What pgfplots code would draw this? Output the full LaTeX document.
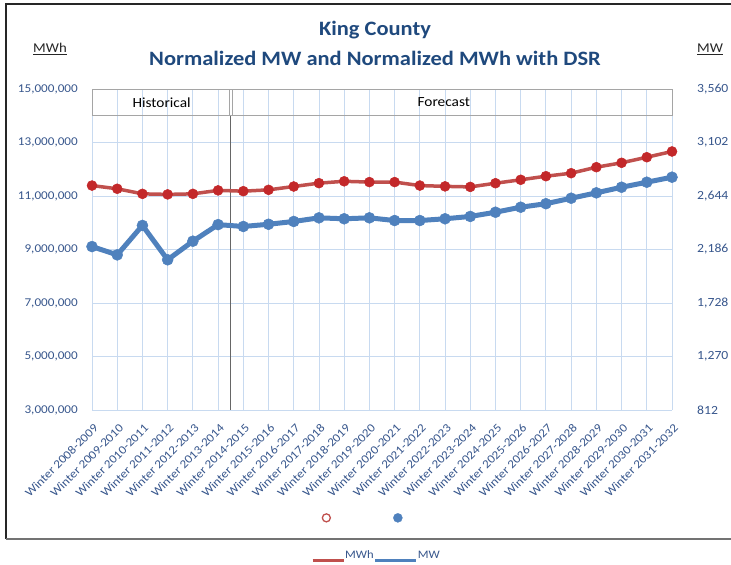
\documentclass[border=0pt]{standalone}
\usepackage{fontspec}
\setmainfont[FakeStretch=1.1]{Carlito}
\usepackage{pgfplots}
\pgfplotsset{compat=1.18}
\definecolor{titleblue}{RGB}{31,73,125}
\definecolor{tickblue}{RGB}{55,86,140}
\definecolor{gridblue}{RGB}{200,218,240}
\definecolor{mwhred}{RGB}{192,80,77}
\definecolor{mwhmark}{RGB}{195,40,42}
\definecolor{mwblue}{RGB}{79,129,189}
\definecolor{boxgray}{RGB}{165,165,165}
\begin{document}
\begin{tikzpicture}
\useasboundingbox (0bp,0bp) rectangle (731bp,565bp);
\draw[black!85, line width=1.3bp] (6bp,26bp) -- (6bp,561bp) -- (745bp,561bp);
\draw[black!55, line width=1.6bp] (6bp,26bp) -- (745bp,26bp);
\node[font=\fontsize{20.5}{24}\selectfont\bfseries, text=titleblue] at (375bp,535bp) {King County};
\node[font=\fontsize{20.5}{24}\selectfont\bfseries, text=titleblue] at (375bp,507bp) {Normalized MW and Normalized MWh with DSR};
\node[font=\fontsize{13.5}{16}\selectfont, text=black!85] at (50bp,516bp) {\underline{MWh}};
\node[font=\fontsize{13.5}{16}\selectfont, text=black!85] at (710bp,516bp) {\underline{MW}};

\begin{axis}[
  at={(92bp,155bp)}, anchor=south west,
  scale only axis, width=580bp, height=321bp,
  xmin=0, xmax=23, ymin=3000000, ymax=15000000,
  xtick={0,...,23},
  xticklabels={Winter 2008-2009,Winter 2009-2010,Winter 2010-2011,Winter 2011-2012,Winter 2012-2013,Winter 2013-2014,Winter 2014-2015,Winter 2015-2016,Winter 2016-2017,Winter 2017-2018,Winter 2018-2019,Winter 2019-2020,Winter 2020-2021,Winter 2021-2022,Winter 2022-2023,Winter 2023-2024,Winter 2024-2025,Winter 2025-2026,Winter 2026-2027,Winter 2027-2028,Winter 2028-2029,Winter 2029-2030,Winter 2030-2031,Winter 2031-2032},
  ytick={3000000,5000000,7000000,9000000,11000000,13000000,15000000},
  scaled y ticks=false,
  /pgf/number format/fixed,
  /pgf/number format/1000 sep={,},
  /pgf/number format/assume math mode=true,
  grid=major, major grid style={gridblue, line width=0.9bp},
  axis line style={draw=none}, major tick style={draw=none},
  yticklabel style={anchor=east, inner sep=0pt, xshift=-14bp, font=\fontsize{12}{14}\selectfont, text=tickblue},
  xticklabel style={xshift=4bp, yshift=-16bp, rotate=45, anchor=east, inner sep=0pt, font=\fontsize{12}{14}\selectfont, text=tickblue},
  clip=false,
  legend style={at={(0.467,-0.336)}, anchor=center, draw=none, fill=none, legend columns=2, /tikz/every even column/.style={column sep=62bp}, nodes={inner sep=0pt}},
]
\draw[boxgray, line width=0.9bp] (axis cs:0,14000000) rectangle (axis cs:23,15000000);
\draw[black!60, line width=0.9bp] (axis cs:5.5,3000000) -- (axis cs:5.5,14000000);
\draw[boxgray, line width=0.8bp] (axis cs:5.45,14000000) -- (axis cs:5.45,15000000);
\draw[boxgray, line width=0.8bp] (axis cs:5.55,14000000) -- (axis cs:5.55,15000000);
\node[font=\fontsize{14}{16}\selectfont, text=black] at (axis cs:2.76,14500000) {Historical};
\node[font=\fontsize{14}{16}\selectfont, text=black] at (axis cs:13.95,14500000) {Forecast};
\addplot[mwhred, line width=3.5bp, mark=*, mark size=5bp, mark options={fill=mwhmark, draw=mwhmark, line width=0.5bp}, forget plot] coordinates {
(0,11390000) (1,11270000) (2,11080000) (3,11060000) (4,11080000) (5,11210000)
(6,11180000) (7,11230000) (8,11355000) (9,11480000) (10,11550000) (11,11520000)
(12,11520000) (13,11390000) (14,11360000) (15,11340000) (16,11478000) (17,11606000)
(18,11740000) (19,11852000) (20,12077000) (21,12241000) (22,12450000) (23,12664000)};
\addlegendimage{only marks, mark=o, mark size=4bp, draw=mwhred, line width=1.3bp}
\addlegendentry{}
\addlegendimage{only marks, mark=*, mark size=4.5bp, draw=mwblue, fill=mwblue}
\addlegendentry{}
\end{axis}

\begin{axis}[
  at={(92bp,155bp)}, anchor=south west,
  scale only axis, width=580bp, height=321bp,
  xmin=0, xmax=23, ymin=812, ymax=3560,
  axis y line*=right, hide x axis,
  ytick={812,1270,1728,2186,2644,3102,3560},
  /pgf/number format/fixed,
  /pgf/number format/1000 sep={,},
  /pgf/number format/assume math mode=true,
  axis line style={draw=none}, major tick style={draw=none},
  yticklabel style={anchor=west, inner sep=0pt, xshift=25bp, font=\fontsize{12.5}{14}\selectfont, text=tickblue},
  clip=false,
  legend style={at={(0.3724,-0.4548)}, anchor=west, draw=none, fill=none, legend columns=2, /tikz/every even column/.style={column sep=0pt}, nodes={inner sep=0pt, font=\fontsize{11.5}{13}\selectfont, text=tickblue}},
]
\addplot[mwblue, line width=5bp, mark=*, mark size=5.5bp, mark options={fill=mwblue, draw=mwblue, line width=0.5bp}, forget plot] coordinates {
(0,2211) (1,2140) (2,2392) (3,2098) (4,2257) (5,2399)
(6,2383) (7,2402) (8,2426) (9,2457) (10,2449) (11,2457)
(12,2434) (13,2434) (14,2449) (15,2469) (16,2505) (17,2548)
(18,2578) (19,2625) (20,2671) (21,2719) (22,2762) (23,2805)};
\addlegendimage{legend image code/.code={\draw[mwhred, line width=3bp] (0bp,-5bp) -- (31bp,-5bp);}}
\addlegendentry{MWh}
\addlegendimage{legend image code/.code={\draw[mwblue, line width=3bp] (0bp,-5bp) -- (41bp,-5bp);}}
\addlegendentry{MW}
\end{axis}
\end{tikzpicture}
\end{document}
